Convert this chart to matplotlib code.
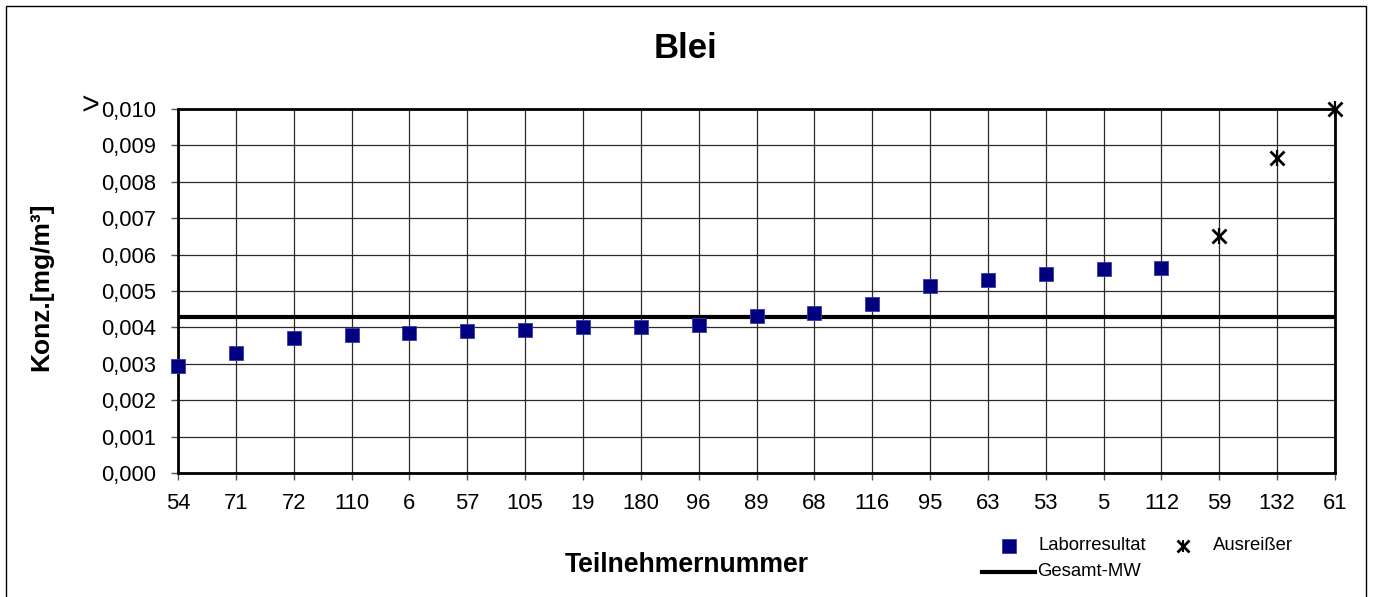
import matplotlib
matplotlib.use('Agg')
import matplotlib.pyplot as plt
from matplotlib.lines import Line2D
from matplotlib.patches import Rectangle

plt.rcParams['font.family'] = ['Liberation Sans', 'DejaVu Sans']

# ---- data ----
participants = ['54', '71', '72', '110', '6', '57', '105', '19', '180', '96',
                '89', '68', '116', '95', '63', '53', '5', '112', '59', '132', '61']
lab_ids = ['54', '71', '72', '110', '6', '57', '105', '19', '180', '96',
           '89', '68', '116', '95', '63', '53', '5', '112']
lab_values = [0.00294, 0.00330, 0.00371, 0.00379, 0.00385, 0.00390, 0.00393,
              0.00401, 0.00401, 0.00407, 0.00430, 0.00440, 0.00463, 0.00514,
              0.00530, 0.00547, 0.00560, 0.00562]
outlier_ids = ['59', '132', '61']
outlier_values = [0.00650, 0.00866, 0.01000]   # 61 shown capped at > 0,010
overall_mean = 0.00429
y_ticks = [0.000, 0.001, 0.002, 0.003, 0.004, 0.005, 0.006, 0.007, 0.008, 0.009, 0.010]
y_tick_labels = ['0,000', '0,001', '0,002', '0,003', '0,004', '0,005',
                 '0,006', '0,007', '0,008', '0,009', '0,010']

W, H = 1374, 597
fig = plt.figure(figsize=(W / 100, H / 100), dpi=100)

# outer chart border
fig.add_artist(Rectangle((6 / W, -0.02), (1366 - 6) / W, 1 - 6 / H + 0.02,
                         transform=fig.transFigure, fill=False,
                         edgecolor='black', linewidth=1.0, clip_on=False))

ax = fig.add_axes([178 / W, 1 - 473 / H, (1335 - 178) / W, (473 - 109) / H])

lab_x = [participants.index(p) for p in lab_ids]
out_x = [participants.index(p) for p in outlier_ids]

ax.axhline(overall_mean, color='black', linewidth=3.0, zorder=3)
ax.plot(lab_x, lab_values, linestyle='none', marker='s', markersize=10.5,
        markerfacecolor='#000080', markeredgecolor='#3a3aa8',
        markeredgewidth=0.6, zorder=4, clip_on=False)
ax.plot(out_x, outlier_values, linestyle='none', marker='x', markersize=10,
        markeredgewidth=2.0, color='black', zorder=5, clip_on=False)
ax.plot(out_x, outlier_values, linestyle='none', marker='|', markersize=11,
        markeredgewidth=1.6, color='black', zorder=5, clip_on=False)

ax.set_xlim(0, len(participants) - 1)
ax.set_ylim(0, 0.010)
ax.set_xticks(range(len(participants)))
ax.set_xticklabels(participants)
ax.set_yticks(y_ticks)
ax.set_yticklabels(y_tick_labels)
ax.grid(True, color='#2a2a2a', linewidth=0.9)
ax.set_axisbelow(True)
for s in ax.spines.values():
    s.set_linewidth(2.0)
    s.set_color('black')
ax.tick_params(axis='both', direction='out', length=5, width=1.0,
               color='#555555', labelsize=15.8)
ax.tick_params(axis='x', pad=9.5)
ax.tick_params(axis='y', pad=10.5)

# ">" prefix of the top tick label
fig.text(90 / W, 1 - 106 / H, '>', fontsize=22, ha='center', va='center')

fig.text(686 / W, 1 - 49 / H, 'Blei', fontsize=25, fontweight='bold',
         ha='center', va='center')
fig.text(687 / W, 1 - 565 / H, 'Teilnehmernummer', fontsize=19.2,
         fontweight='bold', ha='center', va='center')
fig.text(41 / W, 1 - 287 / H, 'Konz.[mg/m³]', fontsize=19, fontweight='bold',
         ha='center', va='center', rotation=90)

# legend
tf = fig.transFigure
fig.add_artist(Line2D([1009 / W], [1 - 546 / H], transform=tf, marker='s',
                      markersize=9.5, markerfacecolor='#000080',
                      markeredgecolor='#3a3aa8', markeredgewidth=0.6,
                      linestyle='none'))
fig.text(1039 / W, 1 - 546 / H, 'Laborresultat', fontsize=13.3,
         ha='left', va='center')
fig.add_artist(Line2D([1183 / W], [1 - 546 / H], transform=tf, marker='x',
                      markersize=8, markeredgewidth=2.0, color='black',
                      linestyle='none'))
fig.add_artist(Line2D([1183 / W], [1 - 546 / H], transform=tf, marker='|',
                      markersize=9, markeredgewidth=1.5, color='black',
                      linestyle='none'))
fig.text(1213 / W, 1 - 546 / H, 'Ausreißer', fontsize=13.3,
         ha='left', va='center')
fig.add_artist(Line2D([982 / W, 1035 / W], [1 - 572 / H, 1 - 572 / H],
                      transform=tf, color='black', linewidth=3.0))
fig.text(1037 / W, 1 - 572 / H, 'Gesamt-MW', fontsize=13.3,
         ha='left', va='center')

fig.savefig('out.png', dpi=100)
